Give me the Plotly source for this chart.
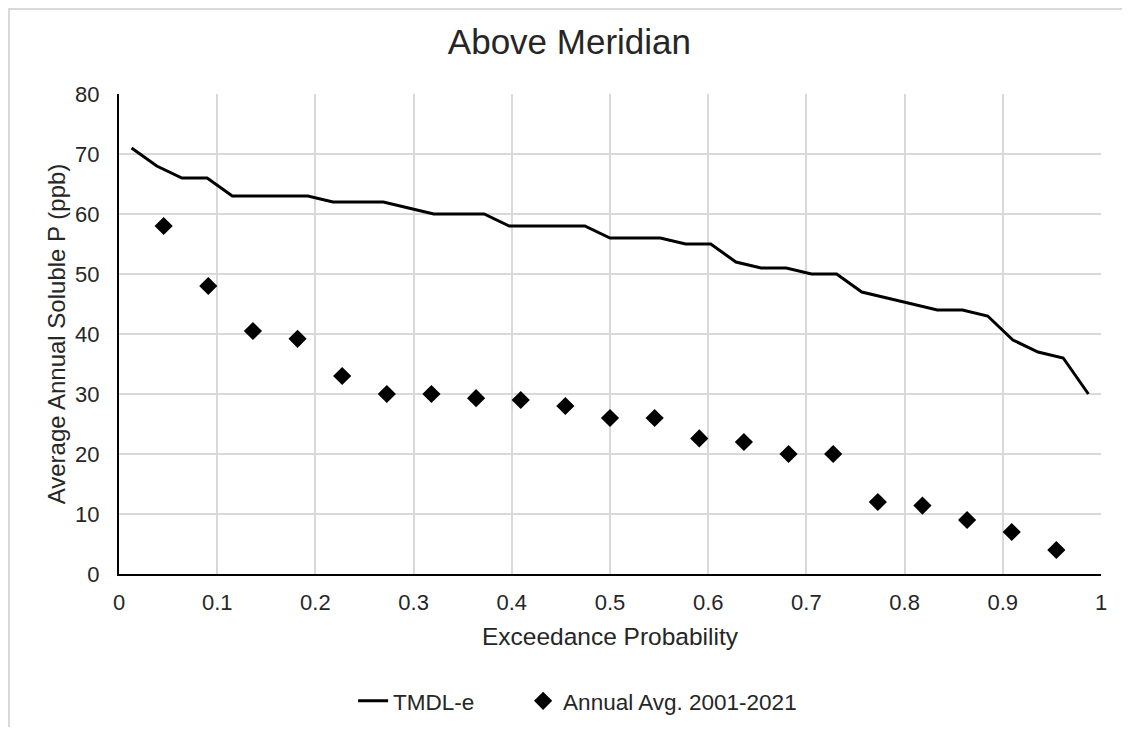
import plotly.graph_objects as go

# TMDL-e exceedance curve (39 ranked values, plotted at (i-0.5)/n)
tmdl_vals = [71, 68, 66, 66, 63, 63, 63, 63, 62, 62, 62, 61, 60, 60, 60,
             58, 58, 58, 58, 56, 56, 56, 55, 55, 52, 51, 51, 50, 50, 47,
             46, 45, 44, 44, 43, 39, 37, 36, 30]

# annual averages 2001-2021 ranked (Weibull plotting position i/(n+1))
annual_vals = [58, 48, 40.5, 39.2, 33, 30, 30, 29.3, 29, 28, 26, 26,
               22.6, 22, 20, 20, 12, 11.4, 9, 7, 4]

n_t = len(tmdl_vals)
tmdl_prob = [(i + 0.5) / n_t for i in range(n_t)]
n_a = len(annual_vals)
annual_prob = [(i + 1) / (n_a + 1) for i in range(n_a)]

x_ticks = [0, 0.1, 0.2, 0.3, 0.4, 0.5, 0.6, 0.7, 0.8, 0.9, 1]
x_tick_text = ["0", "0.1", "0.2", "0.3", "0.4", "0.5", "0.6", "0.7", "0.8", "0.9", "1"]

FONT = "Liberation Sans, Arial, sans-serif"
TXT = "#262626"
GRID = "#d9d9d9"

# page body has an 8px margin, so the figure is sized to fit inside the window
W, H = 1114, 719

fig = go.Figure()
# trailing nbsp's just widen the gap between the two legend entries
fig.add_trace(go.Scatter(x=tmdl_prob, y=tmdl_vals, mode="lines",
                         name="TMDL-e" + "&nbsp;" * 7,
                         line=dict(color="black", width=3)))
fig.add_trace(go.Scatter(x=annual_prob, y=annual_vals, mode="markers",
                         name="Annual Avg. 2001-2021",
                         marker=dict(symbol="diamond", size=14, color="black")))

fig.update_layout(
    width=W, height=H,
    margin=dict(l=111, r=21, t=86, b=153, autoexpand=False),
    paper_bgcolor="white", plot_bgcolor="white",
    font=dict(family=FONT, color=TXT, size=22),
    title=dict(text="Above Meridian", x=0.504, xref="container", xanchor="center",
               y=1 - 34 / H, yref="container", yanchor="middle",
               font=dict(size=35, color=TXT)),
    showlegend=True,
    legend=dict(orientation="h", x=0.467, xanchor="center", y=-0.265, yanchor="middle",
                font=dict(size=22.5, color=TXT)),
    shapes=[dict(type="rect", xref="paper", yref="paper",
                 x0=-0.112, x1=1.2, y0=-0.5, y1=1.177,
                 line=dict(color="#d9d9d9", width=2), fillcolor="rgba(0,0,0,0)",
                 layer="below")],
)

fig.update_xaxes(
    range=[0, 1], tickvals=x_ticks, ticktext=x_tick_text,
    showgrid=True, gridcolor=GRID, gridwidth=1.5,
    showline=True, linecolor="black", linewidth=2,
    zeroline=False, ticks="", ticklabelstandoff=8,
    tickfont=dict(size=22, color=TXT),
    title=dict(text="Exceedance Probability", standoff=13, font=dict(size=24.5, color=TXT)),
)
fig.update_yaxes(
    range=[0, 80], dtick=10,
    showgrid=True, gridcolor=GRID, gridwidth=1.5,
    showline=True, linecolor="black", linewidth=2,
    zeroline=False, ticks="", ticklabelstandoff=13,
    tickfont=dict(size=22, color=TXT),
    title=dict(text="Average Annual Soluble P (ppb)", standoff=3, font=dict(size=24, color=TXT)),
)

fig.write_html("out.html")
